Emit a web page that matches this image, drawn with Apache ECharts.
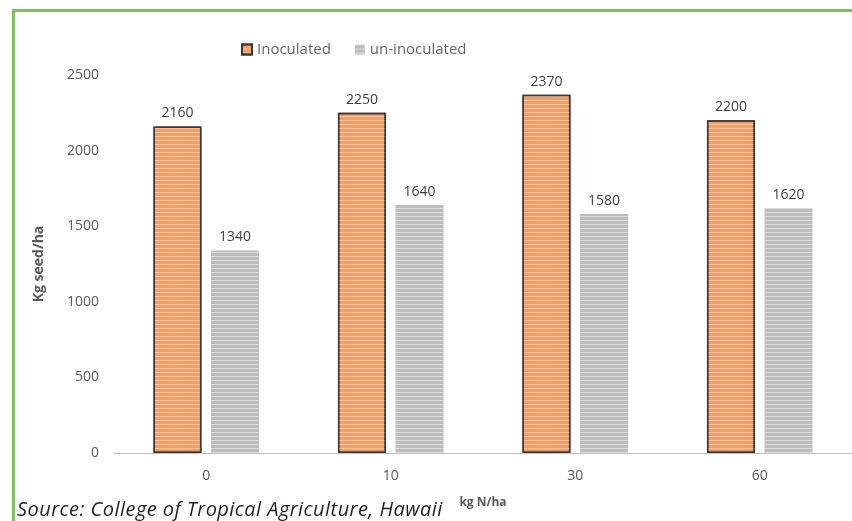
<!DOCTYPE html>
<html>
<head>
<meta charset="utf-8">
<script src="https://cdn.jsdelivr.net/npm/echarts@6/dist/echarts.min.js"></script>
<style>
  html, body { margin: 0; padding: 0; background: #fff; }
  #frame { position: absolute; left: 12px; top: 9px; width: 900px; height: 600px;
           border-top: 3px solid #7dc35b; border-left: 3px solid #7dc35b; }
  #main { position: absolute; left: 0; top: 0; width: 852px; height: 521px; }
  #source { position: absolute; left: 17px; top: 495px; font-family: "Open Sans", sans-serif;
            font-style: italic; font-size: 20px; color: #231f20; letter-spacing: 0.45px; }
</style>
</head>
<body>
<div id="frame"></div>
<div id="main"></div>
<div id="source">Source: College of Tropical Agriculture, Hawaii</div>
<script>
var categories = ['0', '10', '30', '60'];
var inoculated = [2160, 2250, 2370, 2200];
var uninoculated = [1340, 1640, 1580, 1620];
var yTicks = [0, 500, 1000, 1500, 2000, 2500];

var myChart = echarts.init(document.getElementById('main'));

var option = {
    backgroundColor: 'transparent',
    textStyle: { fontFamily: '"Open Sans", sans-serif' },
    legend: {
        left: 236,
        top: 37,
        icon: 'rect',
        itemWidth: 10,
        itemHeight: 10,
        itemGap: 24,
        textStyle: { color: '#666666', fontSize: 15 },
        data: ['Inoculated', 'un-inoculated']
    },
    grid: { left: 114, top: 75, bottom: 68, width: 748 },
    xAxis: {
        type: 'category',
        data: categories,
        name: 'kg N/ha',
        nameLocation: 'middle',
        nameGap: 44,
        nameTextStyle: { color: '#595959', fontSize: 12, fontWeight: 'bold' },
        axisLine: { lineStyle: { color: '#bfbfbf', width: 1 } },
        axisTick: { show: false },
        axisLabel: { color: '#595959', fontSize: 14, margin: 16 }
    },
    yAxis: {
        type: 'value',
        min: yTicks[0],
        max: yTicks[yTicks.length - 1],
        interval: 500,
        name: 'Kg seed/ha',
        nameLocation: 'middle',
        nameGap: 68,
        nameTextStyle: { color: '#595959', fontSize: 14, fontWeight: 'bold' },
        axisLine: { show: false },
        axisTick: { show: false },
        splitLine: { show: false },
        axisLabel: {
            color: '#595959', fontSize: 14, margin: 15,
            formatter: function (v) { return String(v); }
        }
    },
    series: [{
        name: 'Inoculated',
        type: 'bar',
        barWidth: 48,
        barGap: '20%',
        data: inoculated,
        itemStyle: {
            color: '#f49e63',
            borderColor: '#3a3a3a',
            borderWidth: 1.5,
            decal: { symbol: 'rect', symbolSize: 1, dashArrayX: [1, 0], dashArrayY: [1, 3], color: 'rgba(255,220,190,0.6)' }
        },
        label: { show: true, position: 'top', distance: 6, color: '#404040', fontSize: 14 }
    }, {
        name: 'un-inoculated',
        type: 'bar',
        barWidth: 48,
        data: uninoculated,
        itemStyle: {
            color: '#bcbcbc',
            decal: { symbol: 'rect', symbolSize: 1, dashArrayX: [1, 0], dashArrayY: [1, 3], color: 'rgba(235,235,235,0.7)' }
        },
        label: { show: true, position: 'top', distance: 6, color: '#404040', fontSize: 14 }
    }]
};

myChart.setOption(option);
</script>
</body>
</html>
